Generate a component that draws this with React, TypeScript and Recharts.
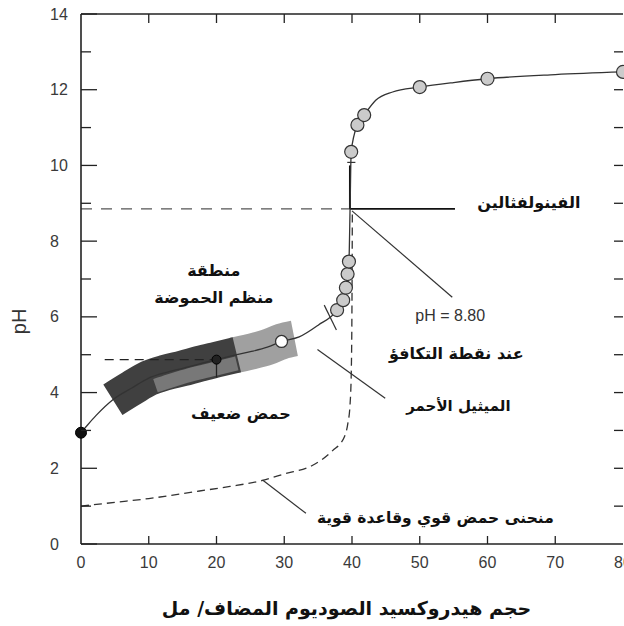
import React from "react";
import {
  ComposedChart,
  Line,
  Scatter,
  XAxis,
  YAxis,
  ReferenceLine,
  ReferenceDot,
  Label,
} from "recharts";

// منحنى معايرة حمض ضعيف بهيدروكسيد الصوديوم
const weakVolume = [
  0, 1, 2.2, 4.7, 7.5, 10, 12.5, 15, 17.5, 20, 23, 25, 27.5, 29.6, 32.2, 35,
  37.8, 38.7, 39.1, 39.35, 39.55, 39.72, 39.88, 40.8, 41.8, 43.5, 46, 50, 55,
  60, 70, 80,
];
const weakPH = [
  2.94, 3.15, 3.39, 3.81, 4.12, 4.38, 4.53, 4.64, 4.76, 4.87, 5.0, 5.08, 5.2,
  5.35, 5.47, 5.78, 6.18, 6.44, 6.77, 7.13, 7.46, 8.9, 10.36, 11.07, 11.33,
  11.72, 11.94, 12.07, 12.19, 12.29, 12.4, 12.47,
];

// النقاط المقاسة (دوائر رمادية)
const markerVolume = [37.8, 38.7, 39.1, 39.35, 39.55, 39.88, 40.8, 41.8, 50, 60, 80];
const markerPH = [6.18, 6.44, 6.77, 7.13, 7.46, 10.36, 11.07, 11.33, 12.07, 12.29, 12.47];

// حمض قوي وقاعدة قوية (خط متقطع)
const strongVolume = [0, 5, 10, 17.5, 22, 26.8, 30, 34.2, 37.1, 38.9, 39.4, 39.7, 39.9, 40.0, 40.05];
const strongPH = [1.0, 1.1, 1.2, 1.4, 1.52, 1.68, 1.85, 2.08, 2.46, 2.84, 3.2, 3.65, 4.6, 6.5, 8.8];

// منطقة منظم الحموضة
const bufferDarkVolume = [4.7, 7.5, 10, 12.5, 15, 17.5, 20, 23];
const bufferDarkPH = [3.81, 4.12, 4.38, 4.53, 4.64, 4.76, 4.87, 5.0];
const bufferLightVolume = [22.5, 25, 27.5, 29.6, 31.5];
const bufferLightPH = [4.98, 5.08, 5.2, 5.35, 5.43];
const bufferInnerVolume = [11, 13, 15, 17.5, 20, 23];
const bufferInnerPH = [4.18, 4.3, 4.41, 4.53, 4.64, 4.77];

const xTicks = [0, 10, 20, 30, 40, 50, 60, 70, 80];
const yTicks = [0, 1, 2, 3, 4, 5, 6, 7, 8, 9, 10, 11, 12, 13, 14];
const topTicks = [10, 20, 30, 40, 50, 60, 70];
const rightTicks = [1, 2, 3, 4, 5, 6, 7, 8, 9, 10, 11, 12, 13];

const toPoints = (xs: number[], ys: number[]) => xs.map((x, i) => ({ x, y: ys[i] }));

const weakCurve = toPoints(weakVolume, weakPH);
const markers = toPoints(markerVolume, markerPH);
const strongCurve = toPoints(strongVolume, strongPH);
const bufferDark = toPoints(bufferDarkVolume, bufferDarkPH);
const bufferLight = toPoints(bufferLightVolume, bufferLightPH);
const bufferInner = toPoints(bufferInnerVolume, bufferInnerPH);
const startPoint = [{ x: 0, y: 2.94 }];
const halfPoint = [{ x: 20, y: 4.87 }];
const whitePoint = [{ x: 29.6, y: 5.35 }];

const INK = "#222";
const NUM_FONT = "'Liberation Sans', Arial, sans-serif";
const AR_FONT = "'DejaVu Sans', sans-serif";
const NUM_COLOR = "#3a3a3a";

function LeftTick(props: any) {
  const { x, y, payload } = props;
  const major = payload.value % 2 === 0;
  return (
    <g>
      <line x1={x} y1={y} x2={x + (major ? 16 : 10)} y2={y} stroke={INK} strokeWidth={1.3} />
      {major && (
        <text x={x - 31} y={y} textAnchor="start" dominantBaseline="central"
          fontFamily={NUM_FONT} fontSize={16} fill={NUM_COLOR}>
          {payload.value}
        </text>
      )}
    </g>
  );
}

function BottomTick(props: any) {
  const { x, y, payload } = props;
  const inner = payload.value > 0 && payload.value < 80;
  return (
    <g>
      {inner && <line x1={x} y1={y} x2={x} y2={y - 8} stroke={INK} strokeWidth={1.3} />}
      <text x={x} y={y + 18} textAnchor="middle" dominantBaseline="central"
        fontFamily={NUM_FONT} fontSize={16} fill={NUM_COLOR}>
        {payload.value}
      </text>
    </g>
  );
}

function TopTick(props: any) {
  const { x, y } = props;
  return <line x1={x} y1={y} x2={x} y2={y + 9} stroke={INK} strokeWidth={1.3} />;
}

function RightTick(props: any) {
  const { x, y } = props;
  return <line x1={x} y1={y} x2={x - 9} y2={y} stroke={INK} strokeWidth={1.3} />;
}

const grayMarker = (p: any) => (
  <circle cx={p.cx} cy={p.cy} r={6.5} fill="#cbcbcb" stroke="#333" strokeWidth={1.2} />
);
const startMarker = (p: any) => (
  <circle cx={p.cx} cy={p.cy} r={5.5} fill="#111" stroke="#000" strokeWidth={1} />
);
const halfMarker = (p: any) => (
  <circle cx={p.cx} cy={p.cy} r={4.5} fill="#222" stroke="#000" strokeWidth={1} />
);
const whiteMarker = (p: any) => (
  <circle cx={p.cx} cy={p.cy} r={6} fill="#fff" stroke="#333" strokeWidth={1.3} />
);
const noMarker = () => <g />;

function note(text: string, size = 15, bold = true, font = AR_FONT, color = "#111") {
  return {
    value: text,
    position: "center" as const,
    fontSize: size,
    fontWeight: bold ? 700 : 400,
    fontFamily: font,
    fill: color,
  };
}

const yTitle = (props: any) => {
  const vb = props.viewBox || { x: 0, y: 14, width: 81, height: 530 };
  const cx = vb.x + 19;
  const cy = vb.y + vb.height * 0.58;
  return (
    <text x={cx} y={cy} transform={`rotate(-90 ${cx} ${cy})`} textAnchor="middle"
      dominantBaseline="central" fontFamily={NUM_FONT} fontSize={20} fill="#333">
      pH
    </text>
  );
};

const xTitle = (props: any) => {
  const vb = props.viewBox || { x: 81, y: 544, width: 542, height: 82 };
  return (
    <text x={vb.x + vb.width * 0.49} y={vb.y + 71} textAnchor="middle"
      fontFamily={AR_FONT} fontWeight={700} fontSize={19} fill="#111">
      حجم هيدروكسيد الصوديوم المضاف/ مل
    </text>
  );
};

export default function App() {
  return (
    <div style={{ position: "absolute", left: 0, top: 0, width: 624, height: 626, background: "#fff" }}>
      <ComposedChart width={624} height={626} margin={{ top: 13, right: 0, bottom: 0, left: 0 }}>
        <XAxis
          type="number"
          dataKey="x"
          domain={[0, 80]}
          ticks={xTicks}
          interval={0}
          height={82}
          tickSize={0}
          tickMargin={0}
          tickLine={false}
          tick={BottomTick}
          axisLine={{ stroke: INK, strokeWidth: 1.6 }}
        >
          <Label content={xTitle} />
        </XAxis>
        <XAxis
          xAxisId="t"
          orientation="top"
          type="number"
          dataKey="x"
          domain={[0, 80]}
          ticks={topTicks}
          interval={0}
          height={1}
          tickSize={0}
          tickMargin={0}
          tickLine={false}
          tick={TopTick}
          axisLine={{ stroke: INK, strokeWidth: 1.6 }}
        />
        <YAxis
          type="number"
          dataKey="y"
          domain={[0, 14]}
          ticks={yTicks}
          interval={0}
          width={81}
          tickSize={0}
          tickMargin={0}
          tickLine={false}
          tick={LeftTick}
          axisLine={{ stroke: INK, strokeWidth: 1.6 }}
        >
          <Label content={yTitle} />
        </YAxis>
        <YAxis
          yAxisId="r"
          orientation="right"
          type="number"
          dataKey="y"
          domain={[0, 14]}
          ticks={rightTicks}
          interval={0}
          width={1}
          tickSize={0}
          tickMargin={0}
          tickLine={false}
          tick={RightTick}
          axisLine={false}
        />

        {/* ربط المحورين العلوي والأيمن */}
        <Scatter xAxisId="t" yAxisId="r" data={markers} shape={noMarker} isAnimationActive={false} />

        {/* منطقة منظم الحموضة */}
        <Line data={bufferLight} dataKey="y" type="monotone" stroke="#a0a0a0" strokeWidth={36}
          dot={false} activeDot={false} isAnimationActive={false} />
        <Line data={bufferDark} dataKey="y" type="monotone" stroke="#404040" strokeWidth={36}
          dot={false} activeDot={false} isAnimationActive={false} />
        <Line data={bufferInner} dataKey="y" type="monotone" stroke="#787878" strokeWidth={14}
          dot={false} activeDot={false} isAnimationActive={false} />

        {/* خطوط مساعدة */}
        <ReferenceLine segment={[{ x: 0, y: 8.85 }, { x: 39.7, y: 8.85 }]} stroke="#555"
          strokeWidth={1.3} strokeDasharray="11 9" />
        <ReferenceLine segment={[{ x: 3.5, y: 4.87 }, { x: 20, y: 4.87 }]} stroke="#222"
          strokeWidth={1.3} strokeDasharray="9 6" />
        <ReferenceLine segment={[{ x: 20, y: 4.87 }, { x: 20, y: 4.4 }]} stroke="#222" strokeWidth={1.3} />
        <ReferenceLine segment={[{ x: 39.7, y: 10 }, { x: 39.7, y: 8.85 }]} stroke="#111" strokeWidth={2} />
        <ReferenceLine segment={[{ x: 39.7, y: 8.85 }, { x: 55.2, y: 8.85 }]} stroke="#111" strokeWidth={1.8} />
        <ReferenceLine segment={[{ x: 39.3, y: 10.08 }, { x: 40.5, y: 10.08 }]} stroke="#333" strokeWidth={1.2} />
        <ReferenceLine segment={[{ x: 40, y: 8.8 }, { x: 54.8, y: 6.52 }]} stroke="#333" strokeWidth={1.2} />
        <ReferenceLine segment={[{ x: 34.9, y: 5.14 }, { x: 44.9, y: 3.85 }]} stroke="#333" strokeWidth={1.2} />
        <ReferenceLine segment={[{ x: 35.9, y: 6.31 }, { x: 37.7, y: 5.65 }]} stroke="#333" strokeWidth={1.2} />
        <ReferenceLine segment={[{ x: 26.8, y: 1.69 }, { x: 33.2, y: 0.81 }]} stroke="#333" strokeWidth={1.2} />

        {/* المنحنيات */}
        <Line data={strongCurve} dataKey="y" type="monotone" stroke="#333" strokeWidth={1.3}
          strokeDasharray="8 5" dot={false} activeDot={false} isAnimationActive={false} />
        <Line data={weakCurve} dataKey="y" type="monotone" stroke="#333" strokeWidth={1.3}
          dot={false} activeDot={false} isAnimationActive={false} />

        <Scatter data={markers} shape={grayMarker} isAnimationActive={false} />
        <Scatter data={startPoint} shape={startMarker} isAnimationActive={false} />
        <Scatter data={halfPoint} shape={halfMarker} isAnimationActive={false} />
        <Scatter data={whitePoint} shape={whiteMarker} isAnimationActive={false} />

        {/* النصوص */}
        <ReferenceDot x={19.6} y={7.24} r={0} stroke="none" fill="none" label={note("منطقة", 16)} />
        <ReferenceDot x={19.6} y={6.52} r={0} stroke="none" fill="none" label={note("منظم الحموضة", 16)} />
        <ReferenceDot x={23.6} y={3.46} r={0} stroke="none" fill="none" label={note("حمض ضعيف", 16)} />
        <ReferenceDot x={66.1} y={9.03} r={0} stroke="none" fill="none" label={note("الفينولفثالين", 16)} />
        <ReferenceDot x={54.5} y={6.05} r={0} stroke="none" fill="none"
          label={note("pH = 8.80", 16, false, NUM_FONT, "#333")} />
        <ReferenceDot x={55.4} y={5.04} r={0} stroke="none" fill="none" label={note("عند نقطة التكافؤ", 16)} />
        <ReferenceDot x={55.7} y={3.65} r={0} stroke="none" fill="none" label={note("الميثيل الأحمر", 15)} />
        <ReferenceDot x={52.3} y={0.71} r={0} stroke="none" fill="none"
          label={note("منحنى حمض قوي وقاعدة قوية", 15.5)} />
      </ComposedChart>
    </div>
  );
}
